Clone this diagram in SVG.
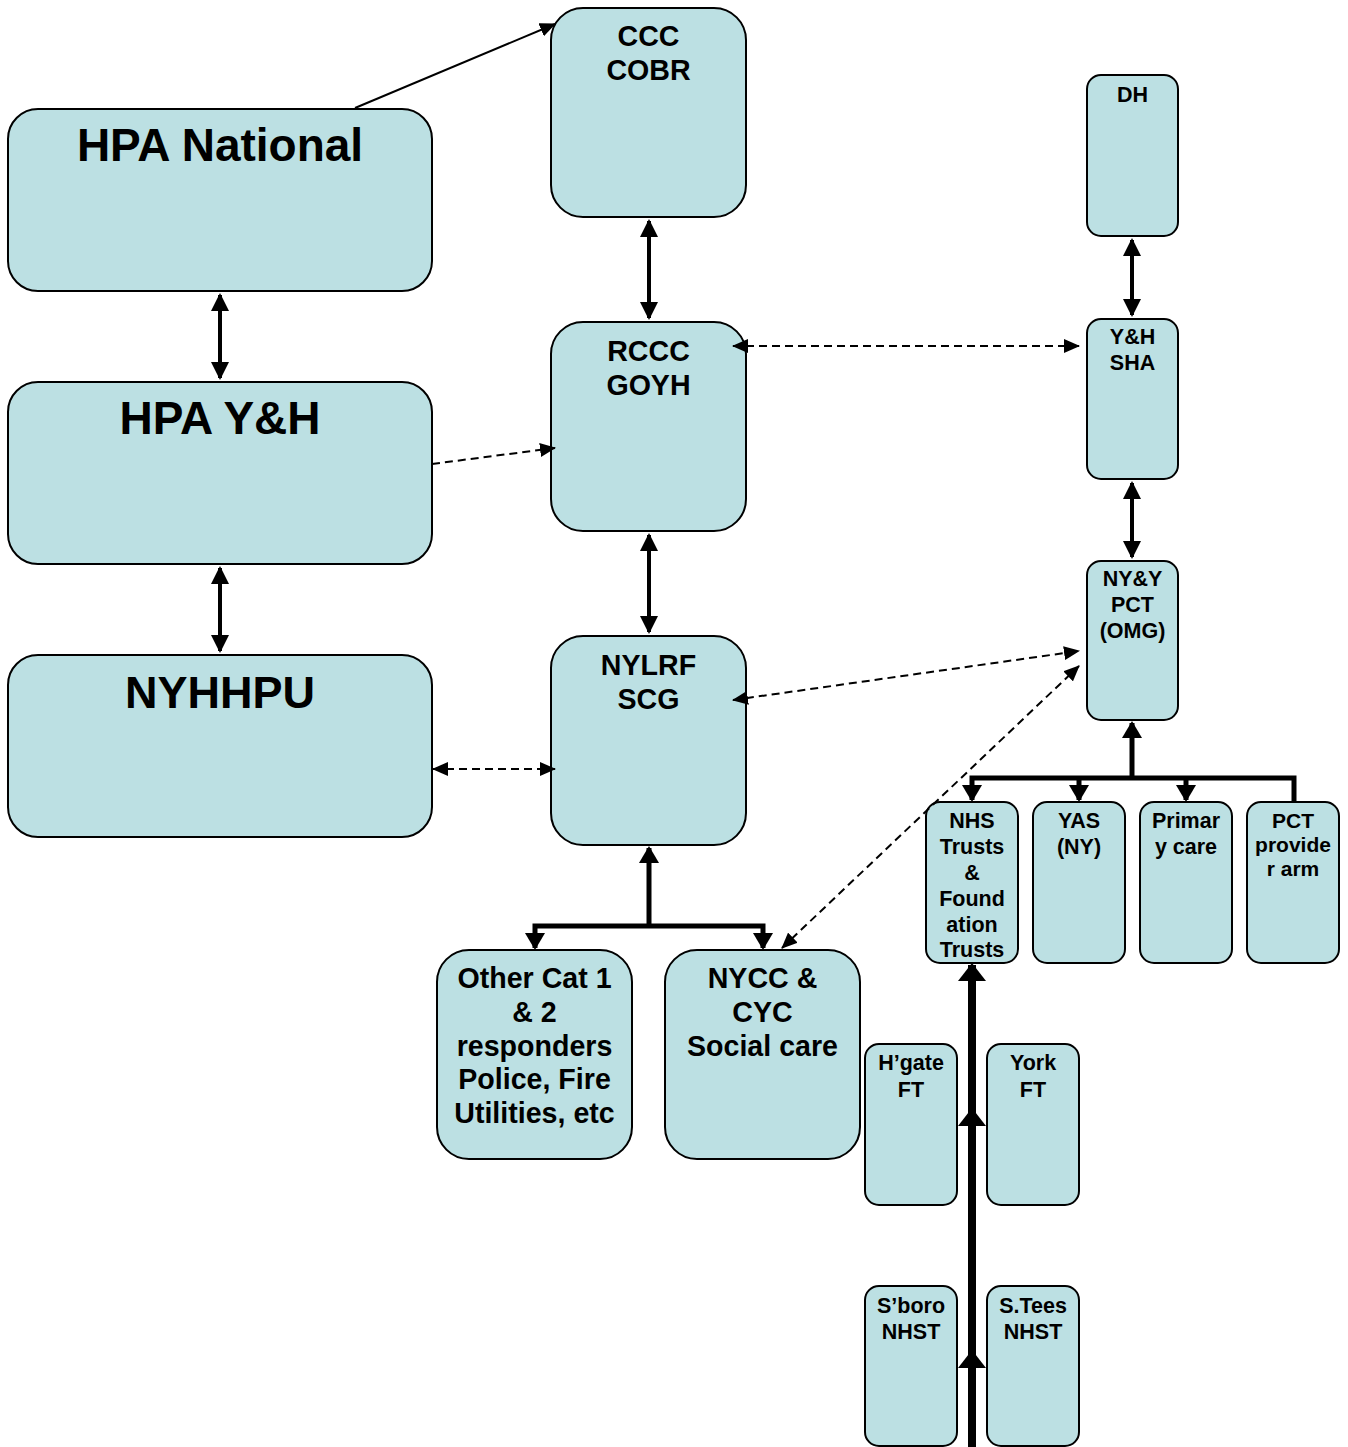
<svg xmlns="http://www.w3.org/2000/svg" width="1348" height="1447" viewBox="0 0 1348 1447">
<style>
.box{fill:#bce0e3;stroke:#000;stroke-width:2}
text{font-family:"Liberation Sans",Arial,sans-serif;font-weight:bold;fill:#000;text-anchor:middle}
.big{font-size:46px}
.mid{font-size:28.6px}
.sm{font-size:21.5px}
.thin{stroke:#000;stroke-width:2;fill:none}
.dash{stroke:#000;stroke-width:2;fill:none;stroke-dasharray:8 5}
.thick{stroke:#000;stroke-width:4;fill:none}
.tree{stroke:#000;stroke-width:5;fill:none}
.trunk{stroke:#000;stroke-width:8;fill:none}
</style>
<defs>
<marker id="aThin" markerUnits="userSpaceOnUse" markerWidth="16" markerHeight="14" refX="15" refY="7" orient="auto-start-reverse"><path d="M0,0 L16,7 L0,14 z" fill="#000"/></marker>
<marker id="aThick" markerUnits="userSpaceOnUse" markerWidth="18" markerHeight="18" refX="16" refY="9" orient="auto-start-reverse"><path d="M0,0 L18,9 L0,18 z" fill="#000"/></marker>
<marker id="aTree" markerUnits="userSpaceOnUse" markerWidth="17" markerHeight="20" refX="15" refY="10" orient="auto-start-reverse"><path d="M0,0 L17,10 L0,20 z" fill="#000"/></marker>
<marker id="aTrunk" markerUnits="userSpaceOnUse" markerWidth="18" markerHeight="28" refX="16" refY="14" orient="auto-start-reverse"><path d="M0,0 L18,14 L0,28 z" fill="#000"/></marker>
</defs>

<g id="hpa-national"><rect class="box" x="8" y="109" width="424" height="182" rx="30"/><text class="big" x="220" y="161">HPA National</text></g>
<g id="hpa-yh"><rect class="box" x="8" y="382" width="424" height="182" rx="30"/><text class="big" x="220" y="434">HPA Y&amp;H</text></g>
<g id="nyhhpu"><rect class="box" x="8" y="655" width="424" height="182" rx="30"/><text class="big" x="220" y="708" style="font-size:45px">NYHHPU</text></g>

<g id="ccc"><rect class="box" x="551" y="8" width="195" height="209" rx="32"/><text class="mid" x="648.5" y="46">CCC</text><text class="mid" x="648.5" y="80">COBR</text></g>
<g id="rccc"><rect class="box" x="551" y="322" width="195" height="209" rx="32"/><text class="mid" x="648.5" y="361">RCCC</text><text class="mid" x="648.5" y="395">GOYH</text></g>
<g id="nylrf"><rect class="box" x="551" y="636" width="195" height="209" rx="32"/><text class="mid" x="648.5" y="675">NYLRF</text><text class="mid" x="648.5" y="709">SCG</text></g>

<g id="other"><rect class="box" x="437" y="950" width="195" height="209" rx="32"/>
<text class="mid" x="534.5" y="988">Other Cat 1</text><text class="mid" x="534.5" y="1022">&amp; 2</text><text class="mid" x="534.5" y="1056">responders</text><text class="mid" x="534.5" y="1089">Police, Fire</text><text class="mid" x="534.5" y="1123">Utilities, etc</text></g>
<g id="nycc"><rect class="box" x="665" y="950" width="195" height="209" rx="32"/>
<text class="mid" x="762.5" y="988">NYCC &amp;</text><text class="mid" x="762.5" y="1022">CYC</text><text class="mid" x="762.5" y="1056">Social care</text></g>

<g id="dh"><rect class="box" x="1087" y="75" width="91" height="161" rx="14"/><text class="sm" x="1132.5" y="102">DH</text></g>
<g id="yh-sha"><rect class="box" x="1087" y="319" width="91" height="160" rx="14"/><text class="sm" x="1132.5" y="344">Y&amp;H</text><text class="sm" x="1132.5" y="370">SHA</text></g>
<g id="nyy-pct"><rect class="box" x="1087" y="561" width="91" height="159" rx="14"/><text class="sm" x="1132.5" y="586">NY&amp;Y</text><text class="sm" x="1132.5" y="612">PCT</text><text class="sm" x="1132.5" y="638">(OMG)</text></g>

<g id="nhs-trusts"><rect class="box" x="926" y="802" width="92" height="161" rx="14"/>
<text class="sm" x="972" y="828">NHS</text><text class="sm" x="972" y="854">Trusts</text><text class="sm" x="972" y="880">&amp;</text><text class="sm" x="972" y="906">Found</text><text class="sm" x="972" y="932">ation</text><text class="sm" x="972" y="957">Trusts</text></g>
<g id="yas"><rect class="box" x="1033" y="802" width="92" height="161" rx="14"/><text class="sm" x="1079" y="828">YAS</text><text class="sm" x="1079" y="854">(NY)</text></g>
<g id="primary"><rect class="box" x="1140" y="802" width="92" height="161" rx="14"/><text class="sm" x="1186" y="828">Primar</text><text class="sm" x="1186" y="854">y care</text></g>
<g id="pct-provider"><rect class="box" x="1247" y="802" width="92" height="161" rx="14"/><text class="sm" x="1293" y="828" style="font-size:21px">PCT</text><text class="sm" x="1293" y="852" style="font-size:21px">provide</text><text class="sm" x="1293" y="876" style="font-size:21px">r arm</text></g>

<g id="hgate"><rect class="box" x="865" y="1044" width="92" height="161" rx="14"/><text class="sm" x="911" y="1070">H’gate</text><text class="sm" x="911" y="1097">FT</text></g>
<g id="york"><rect class="box" x="987" y="1044" width="92" height="161" rx="14"/><text class="sm" x="1033" y="1070">York</text><text class="sm" x="1033" y="1097">FT</text></g>
<g id="sboro"><rect class="box" x="865" y="1286" width="92" height="160" rx="14"/><text class="sm" x="911" y="1313">S’boro</text><text class="sm" x="911" y="1339">NHST</text></g>
<g id="stees"><rect class="box" x="987" y="1286" width="92" height="160" rx="14"/><text class="sm" x="1033" y="1313">S.Tees</text><text class="sm" x="1033" y="1339">NHST</text></g>

<g id="connectors">
<path class="thin" d="M355,108 L555,24" marker-end="url(#aThin)"/>
<path class="thick" d="M649,221 L649,318" marker-start="url(#aThick)" marker-end="url(#aThick)"/>
<path class="thick" d="M220,295 L220,378" marker-start="url(#aThick)" marker-end="url(#aThick)"/>
<path class="thick" d="M220,568 L220,651" marker-start="url(#aThick)" marker-end="url(#aThick)"/>
<path class="thick" d="M649,535 L649,632" marker-start="url(#aThick)" marker-end="url(#aThick)"/>
<path class="thick" d="M1132,240 L1132,315" marker-start="url(#aThick)" marker-end="url(#aThick)"/>
<path class="thick" d="M1132,483 L1132,557" marker-start="url(#aThick)" marker-end="url(#aThick)"/>
<path class="dash" d="M432,464 L555,448" marker-end="url(#aThin)"/>
<path class="dash" d="M433,769 L555,769" marker-start="url(#aThin)" marker-end="url(#aThin)"/>
<path class="dash" d="M733,346 L1079,346" marker-start="url(#aThin)" marker-end="url(#aThin)"/>
<path class="dash" d="M733,700 L1079,651" marker-start="url(#aThin)" marker-end="url(#aThin)"/>
<path class="dash" d="M782,948 L1079,666" marker-start="url(#aThin)" marker-end="url(#aThin)"/>
<path class="tree" d="M649,926 L649,848" marker-end="url(#aTree)"/>
<path class="tree" d="M535,948 L535,926 L763,926 L763,948" marker-start="url(#aTree)" marker-end="url(#aTree)"/>
<path class="tree" d="M1132,778 L1132,723" marker-end="url(#aTree)"/>
<path class="tree" d="M972,800 L972,778 L1294,778 L1294,802" marker-start="url(#aTree)"/>
<path class="tree" d="M1079,778 L1079,800" marker-end="url(#aTree)"/>
<path class="tree" d="M1186,778 L1186,800" marker-end="url(#aTree)"/>
<path class="trunk" d="M972,1447 L972,1352" marker-end="url(#aTrunk)"/>
<path class="trunk" d="M972,1447 L972,1110" marker-end="url(#aTrunk)"/>
<path class="trunk" d="M972,1447 L972,965" marker-end="url(#aTrunk)"/>
</g>
</svg>
